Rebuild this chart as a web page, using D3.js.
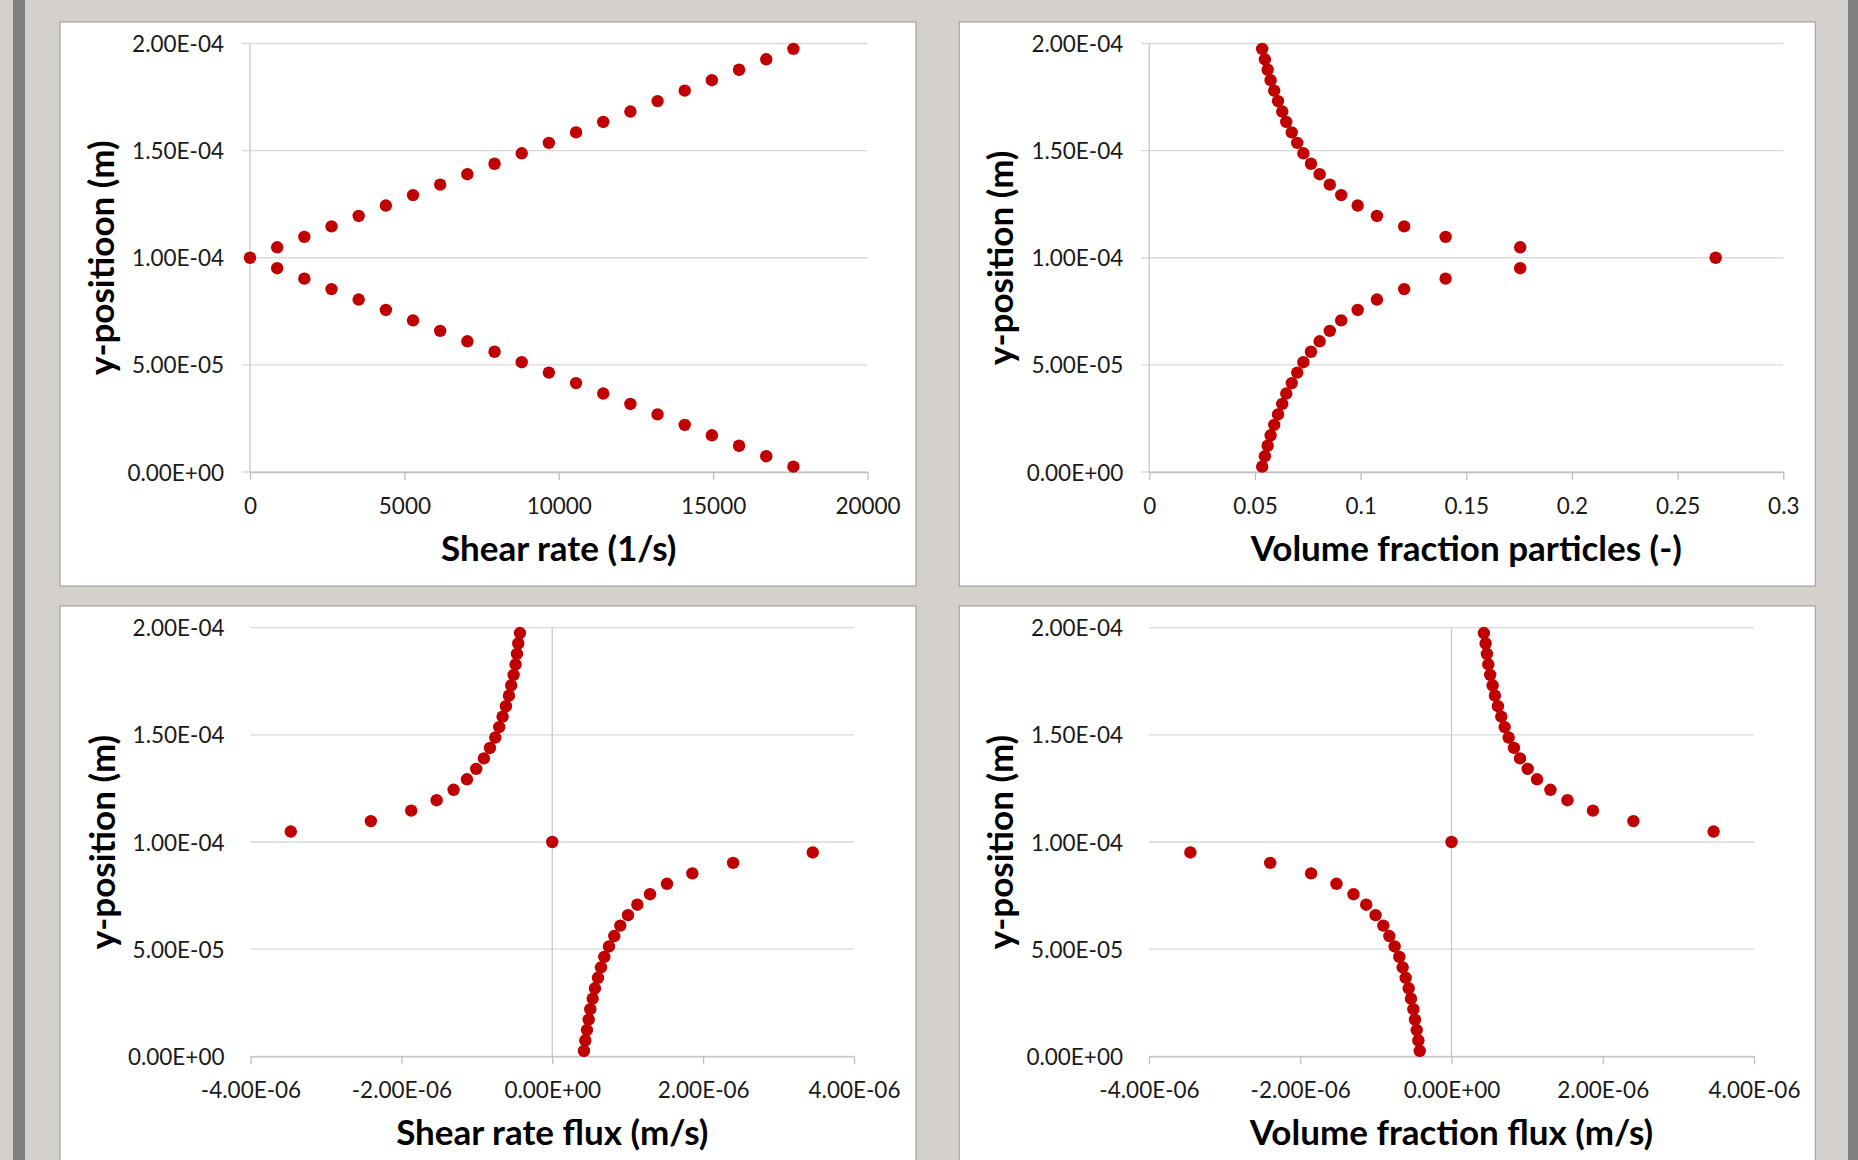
<!DOCTYPE html>
<html>
<head>
<meta charset="utf-8">
<script src="https://cdn.jsdelivr.net/npm/d3@7"></script>
<style>
  html, body { margin: 0; padding: 0; background: #d4d0cc; overflow: hidden; }
  text { font-family: Lato, "Open Sans", sans-serif; }
</style>
</head>
<body>
<svg id="chart" width="1858" height="1160"></svg>
<script>
// y position of every node (m), bottom to top
var yPos = [2.5e-6, 7.375e-6, 12.25e-6, 17.125e-6, 22e-6, 26.875e-6, 31.75e-6, 36.625e-6,
  41.5e-6, 46.375e-6, 51.25e-6, 56.125e-6, 61e-6, 65.875e-6, 70.75e-6, 75.625e-6, 80.5e-6,
  85.375e-6, 90.25e-6, 95.125e-6, 100e-6, 104.875e-6, 109.75e-6, 114.625e-6, 119.5e-6,
  124.375e-6, 129.25e-6, 134.125e-6, 139e-6, 143.875e-6, 148.75e-6, 153.625e-6, 158.5e-6,
  163.375e-6, 168.25e-6, 173.125e-6, 178e-6, 182.875e-6, 187.75e-6, 192.625e-6, 197.5e-6];

var shearRate = [17600, 16720, 15840, 14960, 14080, 13200, 12320, 11440, 10560, 9680, 8800,
  7920, 7040, 6160, 5280, 4400, 3520, 2640, 1760, 880, 0, 880, 1760, 2640, 3520, 4400, 5280,
  6160, 7040, 7920, 8800, 9680, 10560, 11440, 12320, 13200, 14080, 14960, 15840, 16720, 17600];

var volFrac = [0.0534, 0.0547, 0.0560, 0.0574, 0.0591, 0.0609, 0.0629, 0.0648, 0.0674, 0.0700,
  0.0729, 0.0765, 0.0806, 0.0854, 0.0908, 0.0986, 0.1077, 0.1206, 0.1402, 0.1755, 0.2680,
  0.1755, 0.1402, 0.1206, 0.1077, 0.0986, 0.0908, 0.0854, 0.0806, 0.0765, 0.0729, 0.0700,
  0.0674, 0.0648, 0.0629, 0.0609, 0.0591, 0.0574, 0.0560, 0.0547, 0.0534];

var shearFlux = [4.20e-7, 4.38e-7, 4.60e-7, 4.83e-7, 5.04e-7, 5.36e-7, 5.66e-7, 6.06e-7, 6.46e-7,
  6.90e-7, 7.52e-7, 8.22e-7, 9.02e-7, 1.004e-6, 1.128e-6, 1.296e-6, 1.521e-6, 1.857e-6,
  2.397e-6, 3.453e-6, 0, -3.466e-6, -2.405e-6, -1.870e-6, -1.533e-6, -1.308e-6, -1.131e-6,
  -1.008e-6, -9.06e-7, -8.26e-7, -7.56e-7, -7.03e-7, -6.58e-7, -6.14e-7, -5.74e-7, -5.44e-7,
  -5.12e-7, -4.86e-7, -4.68e-7, -4.51e-7, -4.28e-7];

var volFracFlux = [-4.20e-7, -4.38e-7, -4.60e-7, -4.83e-7, -5.04e-7, -5.36e-7, -5.66e-7, -6.06e-7,
  -6.46e-7, -6.90e-7, -7.52e-7, -8.22e-7, -9.02e-7, -1.004e-6, -1.128e-6, -1.296e-6, -1.521e-6,
  -1.857e-6, -2.397e-6, -3.453e-6, 0, 3.466e-6, 2.405e-6, 1.870e-6, 1.533e-6, 1.308e-6, 1.131e-6,
  1.008e-6, 9.06e-7, 8.26e-7, 7.56e-7, 7.03e-7, 6.58e-7, 6.14e-7, 5.74e-7, 5.44e-7, 5.12e-7,
  4.86e-7, 4.68e-7, 4.51e-7, 4.28e-7];

var yTicks = [0, 5e-5, 1e-4, 1.5e-4, 2e-4];
var yTickLabels = ["0.00E+00", "5.00E-05", "1.00E-04", "1.50E-04", "2.00E-04"];
var shearTicks = [0, 5000, 10000, 15000, 20000];
var shearTickLabels = ["0", "5000", "10000", "15000", "20000"];
var fracTicks = [0, 0.05, 0.1, 0.15, 0.2, 0.25, 0.3];
var fracTickLabels = ["0", "0.05", "0.1", "0.15", "0.2", "0.25", "0.3"];
var fluxTicks = [-4e-6, -2e-6, 0, 2e-6, 4e-6];
var fluxTickLabels = ["-4.00E-06", "-2.00E-06", "0.00E+00", "2.00E-06", "4.00E-06"];

var svg = d3.select("#chart");

// window frame strips
svg.append("rect").attr("x", 13).attr("y", 0).attr("width", 12).attr("height", 1160).attr("fill", "#7f7f7f");
svg.append("rect").attr("x", 1848).attr("y", 0).attr("width", 10).attr("height", 1160).attr("fill", "#7f7f7f");

function drawPanel(p) {
  var g = svg.append("g");

  g.append("rect")
    .attr("x", p.box[0]).attr("y", p.box[1])
    .attr("width", p.box[2]).attr("height", p.box[3])
    .attr("fill", "#fff").attr("stroke", "#a3a3a3").attr("stroke-width", 1.2);

  var x = d3.scaleLinear().domain(p.xDomain).range([p.x0, p.x1]);
  var y = d3.scaleLinear().domain([0, 2e-4]).range([p.yBot, p.yTop]);

  // horizontal gridlines (stick out as tick marks when the y axis is at the left)
  var gridStart = p.xDomain[0] === 0 ? p.x0 - 8 : p.x0;
  g.append("g").selectAll("line")
    .data(yTicks)
    .join("line")
    .attr("x1", gridStart).attr("x2", p.x1)
    .attr("y1", d => y(d)).attr("y2", d => y(d))
    .attr("stroke", "#d9d9d9").attr("stroke-width", 1.3);

  // vertical axis line at x = 0
  g.append("line")
    .attr("x1", x(0)).attr("x2", x(0))
    .attr("y1", p.yTop).attr("y2", p.yBot)
    .attr("stroke", "#cacaca").attr("stroke-width", 1.3);

  // bottom axis
  var bottomAxis = d3.axisBottom(x)
    .tickValues(p.xTicks)
    .tickFormat((d, i) => p.xLabels[i])
    .tickSize(8)
    .tickSizeOuter(0);

  var xAxis = g.append("g")
    .attr("transform", `translate(0, ${p.yBot})`)
    .call(bottomAxis);
  xAxis.select(".domain").attr("stroke", "#bfbfbf").attr("stroke-width", 1.3);
  xAxis.selectAll(".tick line").attr("stroke", "#bfbfbf").attr("stroke-width", 1.3);
  xAxis.selectAll(".tick text")
    .attr("y", 42).attr("dy", null)
    .attr("fill", "#1a1a1a")
    .style("font-size", "22.5px")
    .style("font-family", "Lato, 'Open Sans', sans-serif");

  // left labels
  var leftAxis = d3.axisLeft(y)
    .tickValues(yTicks)
    .tickFormat((d, i) => yTickLabels[i])
    .tickSize(0)
    .tickPadding(0);

  var yAxis = g.append("g")
    .attr("transform", `translate(${p.x0 - 26}, 0)`)
    .call(leftAxis);
  yAxis.select(".domain").remove();
  yAxis.selectAll(".tick text")
    .attr("dy", "0.36em")
    .attr("fill", "#1a1a1a")
    .style("font-size", "22.5px")
    .style("font-family", "Lato, 'Open Sans', sans-serif");

  // points
  g.append("g").selectAll("circle")
    .data(p.values.map((v, i) => ({ v: v, y: yPos[i] })))
    .join("circle")
    .attr("cx", d => x(d.v))
    .attr("cy", d => y(d.y))
    .attr("r", 6.2)
    .attr("fill", "#c00000");

  // axis titles
  g.append("text")
    .attr("x", (p.x0 + p.x1) / 2)
    .attr("y", p.yBot + 89)
    .attr("text-anchor", "middle")
    .style("font-size", "35px").style("font-weight", "bold")
    .attr("fill", "#000")
    .text(p.xTitle);

  g.append("text")
    .attr("transform", `translate(${p.x0 - 136}, ${(p.yTop + p.yBot) / 2}) rotate(-90)`)
    .attr("text-anchor", "middle")
    .style("font-size", "35px").style("font-weight", "bold")
    .attr("fill", "#000")
    .text(p.yTitle);
}

drawPanel({
  box: [60, 22, 856, 564], x0: 250, x1: 867.5, yTop: 43.5, yBot: 472,
  xDomain: [0, 20000], xTicks: shearTicks, xLabels: shearTickLabels,
  values: shearRate, xTitle: "Shear rate (1/s)", yTitle: "y-positioon (m)"
});

drawPanel({
  box: [959.3, 22, 856, 564], x0: 1149.3, x1: 1783.3, yTop: 43.5, yBot: 472,
  xDomain: [0, 0.3], xTicks: fracTicks, xLabels: fracTickLabels,
  values: volFrac, xTitle: "Volume fraction particles (-)", yTitle: "y-position (m)"
});

drawPanel({
  box: [60, 606, 856, 600], x0: 250.5, x1: 854, yTop: 627.7, yBot: 1056.3,
  xDomain: [-4e-6, 4e-6], xTicks: fluxTicks, xLabels: fluxTickLabels,
  values: shearFlux, xTitle: "Shear rate flux (m/s)", yTitle: "y-position (m)"
});

drawPanel({
  box: [959.3, 606, 856, 600], x0: 1149, x1: 1754, yTop: 627.7, yBot: 1056.3,
  xDomain: [-4e-6, 4e-6], xTicks: fluxTicks, xLabels: fluxTickLabels,
  values: volFracFlux, xTitle: "Volume fraction flux (m/s)", yTitle: "y-position (m)"
});
</script>
</body>
</html>
